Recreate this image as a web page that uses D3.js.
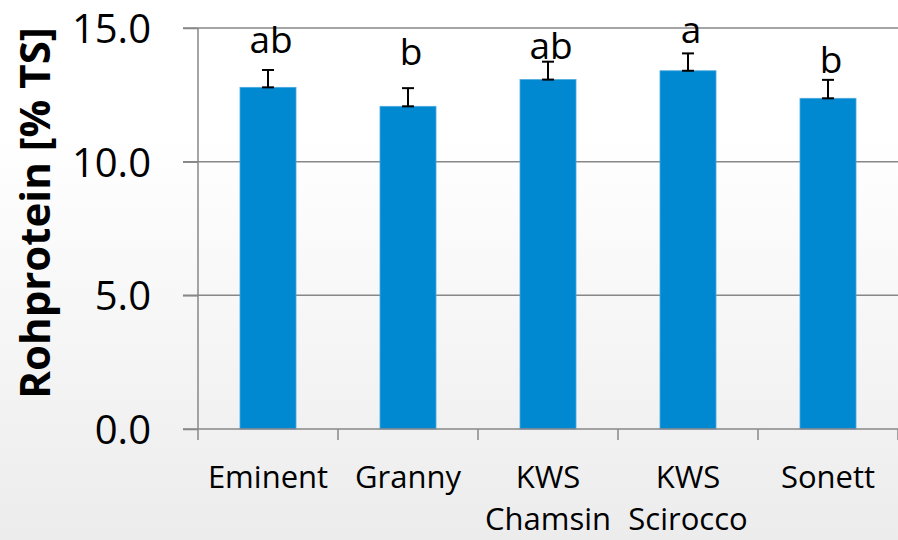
<!DOCTYPE html>
<html>
<head>
<meta charset="utf-8">
<script src="https://cdn.jsdelivr.net/npm/d3@7"></script>
<style>
  html, body { margin: 0; padding: 0; }
  svg { display: block; }
  text { font-family: "Open Sans", sans-serif; fill: #000; }
</style>
</head>
<body>
<svg id="chart" width="898" height="540"></svg>
<script>
const categories = ["Eminent", "Granny", "KWS Chamsin", "KWS Scirocco", "Sonett"];
const categoryLines = [["Eminent"], ["Granny"], ["KWS", "Chamsin"], ["KWS", "Scirocco"], ["Sonett"]];
const values = [12.78, 12.07, 13.07, 13.40, 12.37];
const errors = [0.65, 0.68, 0.67, 0.65, 0.69];
const letters = ["ab", "b", "ab", "a", "b"];
const letterLevels = [14.06, 13.62, 13.83, 14.45, 13.31];
const yTicks = [0, 5, 10, 15];
const yTitle = "Rohprotein [% TS]";

const svg = d3.select("#chart");
const W = 898, H = 540;

const defs = svg.append("defs");
const grad = defs.append("linearGradient").attr("id", "bg").attr("x1", 0).attr("y1", 0).attr("x2", 0).attr("y2", 1);
grad.append("stop").attr("offset", "0%").attr("stop-color", "#ffffff");
grad.append("stop").attr("offset", "25%").attr("stop-color", "#ffffff");
grad.append("stop").attr("offset", "100%").attr("stop-color", "#ececec");
svg.append("rect").attr("width", W).attr("height", H).attr("fill", "url(#bg)");

const x = d3.scaleBand().domain(categories).range([198, 898]).paddingInner(0.6).paddingOuter(0.3);
const y = d3.scaleLinear().domain([0, 15]).range([429, 28]);
const gridColor = "#878787";

// gridlines
svg.append("g").selectAll("line").data(yTicks.filter(d => d > 0)).join("line")
  .attr("x1", 183).attr("x2", 898)
  .attr("y1", d => y(d)).attr("y2", d => y(d))
  .attr("stroke", gridColor).attr("stroke-width", 1.5);

// y axis
const yAxis = svg.append("g").attr("transform", "translate(198,0)")
  .call(d3.axisLeft(y).tickValues(yTicks).tickFormat(d3.format(".1f")).tickSize(15).tickPadding(32));
yAxis.select(".domain").attr("stroke", gridColor).attr("stroke-width", 1.5).attr("d", `M0,${y(15)}V${y(0)}`);
yAxis.selectAll(".tick line").attr("stroke", gridColor).attr("stroke-width", 1.5);
yAxis.selectAll(".tick text").attr("font-family", "Open Sans").attr("font-size", 40).attr("fill", "#000").attr("dy", "0.36em");

// bars
svg.append("g").selectAll("rect").data(categories).join("rect")
  .attr("x", d => x(d)).attr("width", x.bandwidth())
  .attr("y", (d, i) => y(values[i])).attr("height", (d, i) => y(0) - y(values[i]))
  .attr("fill", "#0089d1").attr("stroke", "#4aa9e0").attr("stroke-width", 0.8);

// x axis
const xTickPos = d3.range(categories.length + 1).map(i => 198 + i * x.step());
svg.append("line").attr("x1", 183).attr("x2", 898).attr("y1", y(0)).attr("y2", y(0))
  .attr("stroke", gridColor).attr("stroke-width", 1.5);
svg.append("g").selectAll("line").data(xTickPos).join("line")
  .attr("x1", d => d).attr("x2", d => d).attr("y1", y(0)).attr("y2", y(0) + 11)
  .attr("stroke", gridColor).attr("stroke-width", 1.5);

const xl = svg.append("g").selectAll("text").data(categories).join("text")
  .attr("text-anchor", "middle").attr("font-size", 31)
  .attr("x", d => x(d) + x.bandwidth() / 2).attr("y", 488);
xl.each(function(d, i) {
  const t = d3.select(this);
  categoryLines[i].forEach((ln, j) => {
    t.append("tspan").attr("x", x(d) + x.bandwidth() / 2).attr("dy", j === 0 ? 0 : 42).text(ln);
  });
});

// error bars
const eb = svg.append("g").attr("stroke", "#000").attr("stroke-width", 2);
categories.forEach((c, i) => {
  const cx = x(c) + x.bandwidth() / 2;
  const y0 = y(values[i]), y1 = y(values[i] + errors[i]);
  eb.append("line").attr("x1", cx).attr("x2", cx).attr("y1", y0).attr("y2", y1);
  eb.append("line").attr("x1", cx - 6).attr("x2", cx + 6).attr("y1", y1).attr("y2", y1);
  eb.append("line").attr("x1", cx - 6).attr("x2", cx + 6).attr("y1", y0).attr("y2", y0);
});

// letters
svg.append("g").selectAll("text").data(categories).join("text")
  .attr("text-anchor", "middle").attr("font-size", 37)
  .attr("x", d => x(d) + x.bandwidth() / 2 + 3)
  .attr("y", (d, i) => y(letterLevels[i]))
  .text((d, i) => letters[i]);

// y title
svg.append("text").attr("transform", "translate(50,213) rotate(-90)")
  .attr("text-anchor", "middle").attr("font-weight", "bold").attr("font-size", 42)
  .text(yTitle);
</script>
</body>
</html>
